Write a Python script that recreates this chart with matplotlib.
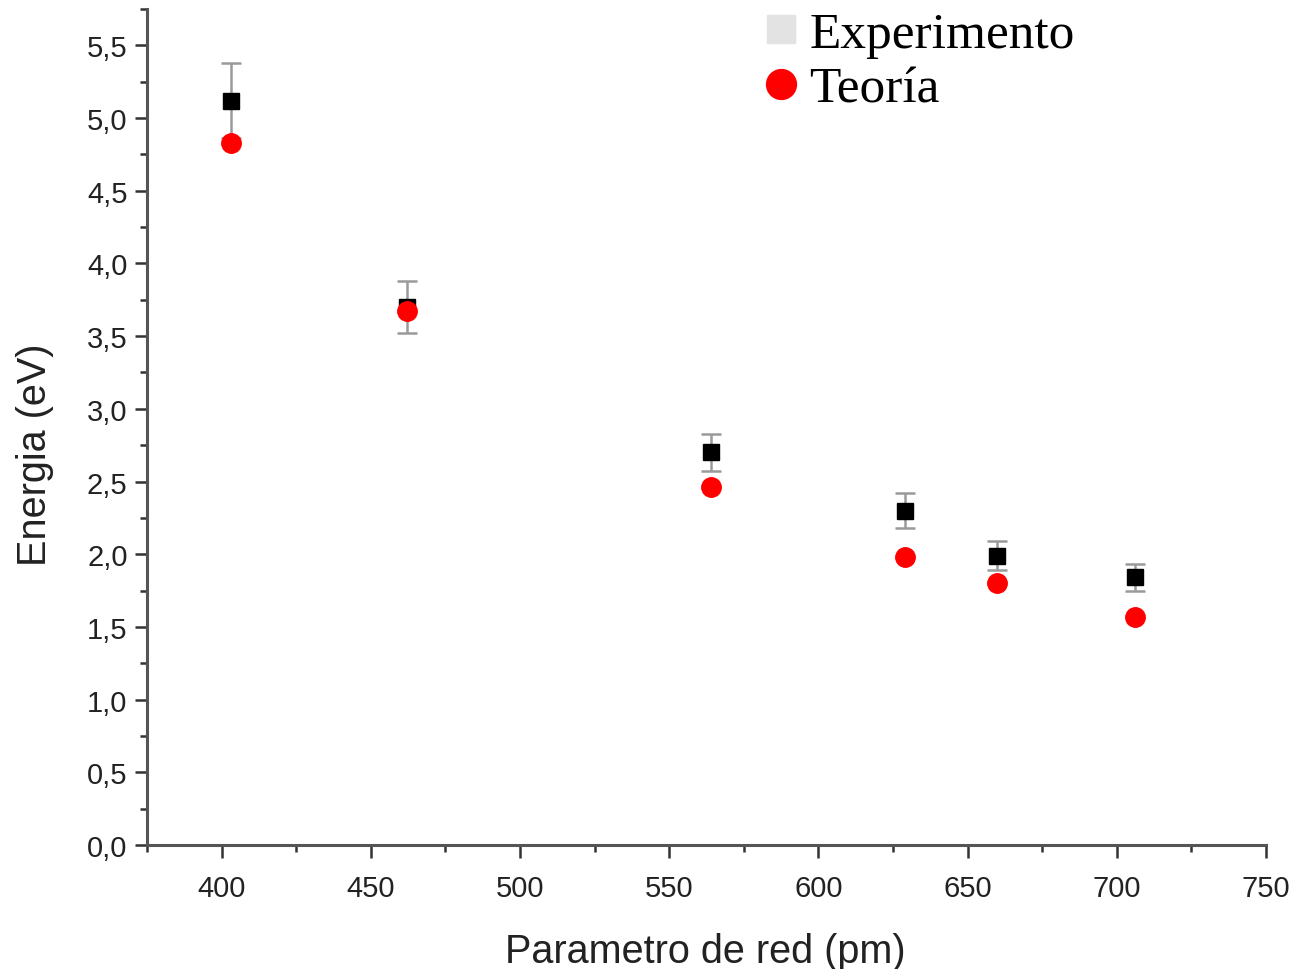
import matplotlib
matplotlib.use("Agg")
import matplotlib.pyplot as plt
from matplotlib.lines import Line2D
from matplotlib.ticker import MultipleLocator, FuncFormatter

# Data
lattice = [403, 462, 564, 629, 660, 706]
exp_energy = [5.12, 3.70, 2.70, 2.30, 1.99, 1.84]
exp_err = [0.26, 0.18, 0.13, 0.12, 0.10, 0.09]
theory_energy = [4.83, 3.67, 2.46, 1.98, 1.80, 1.57]

xlabel = "Parametro de red (pm)"
ylabel = "Energia (eV)"
legend_labels = ["Experimento", "Teoría"]

sans = ["Liberation Sans", "DejaVu Sans"]
serif = ["Liberation Serif", "DejaVu Serif"]

fig = plt.figure(figsize=(12.97, 9.70), dpi=100)
ax = fig.add_axes([147/1297, 1-846/970, (1266-147)/1297, (846-10)/970])

ax.errorbar(lattice, exp_energy, yerr=exp_err, fmt='none', ecolor='#9a9a9a',
            elinewidth=1.8, capsize=7.5, capthick=1.8, zorder=2)
ax.plot(lattice, exp_energy, linestyle='none', marker='s', markersize=12,
        color='black', zorder=3)
ax.plot(lattice, theory_energy, linestyle='none', marker='o', markersize=14,
        color='#ff0000', zorder=4)

ax.set_xlim(375, 750)
ax.set_ylim(0, 5.75)
ax.xaxis.set_major_locator(MultipleLocator(50))
ax.xaxis.set_minor_locator(MultipleLocator(25))
ax.yaxis.set_major_locator(MultipleLocator(0.5))
ax.yaxis.set_minor_locator(MultipleLocator(0.25))
ax.yaxis.set_major_formatter(FuncFormatter(lambda v, p: f"{v:.1f}".replace('.', ',')))
ax.xaxis.set_major_formatter(FuncFormatter(lambda v, p: f"{v:.0f}"))

for s in ['top', 'right']:
    ax.spines[s].set_visible(False)
for s in ['left', 'bottom']:
    ax.spines[s].set_linewidth(2.2)
    ax.spines[s].set_color('#555555')

ax.tick_params(which='major', direction='out', length=9, width=1.8, color='#333333',
               labelsize=21, labelcolor='#222222')
ax.tick_params(which='minor', direction='out', length=5, width=1.8, color='#333333')
ax.tick_params(axis='x', which='major', pad=12)
ax.tick_params(axis='y', which='major', pad=5)
for lab in ax.get_xticklabels() + ax.get_yticklabels():
    lab.set_fontfamily(sans)

ax.set_xlabel(xlabel, fontsize=28.5, family=sans, color='#222222')
ax.set_ylabel(ylabel, fontsize=28.5, family=sans, color='#222222')
ax.xaxis.set_label_coords((705-147)/1119, (846-933)/836)
ax.yaxis.set_label_coords((54-147)/1119, (846-455)/836)

handles = [Line2D([], [], linestyle='none', marker='s', markersize=20,
                  color='#e3e3e3'),
           Line2D([], [], linestyle='none', marker='o', markersize=21.5,
                  color='#ff0000')]
leg = ax.legend(handles, legend_labels, loc='upper left',
                bbox_to_anchor=(755/1297, 1-12/970), bbox_transform=fig.transFigure,
                frameon=False, prop={'family': serif, 'size': 37},
                handlelength=1.0, handletextpad=0.06, labelspacing=0.15,
                borderpad=0.0, borderaxespad=0.0)

fig.savefig("out.png", dpi=100)
